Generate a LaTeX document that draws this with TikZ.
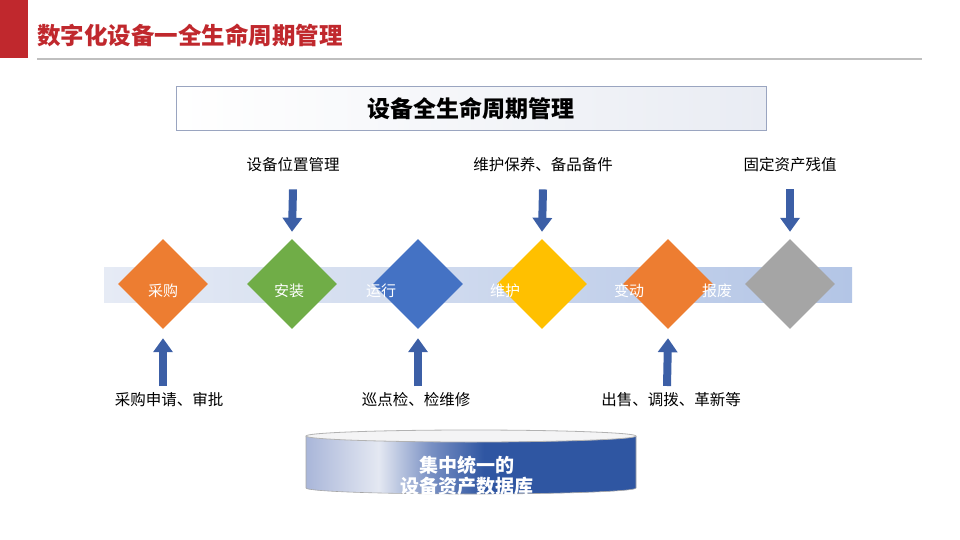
\documentclass[tikz,border=0pt]{standalone}
\usepackage{fontspec}
\setmainfont{Noto Sans CJK SC}
\usetikzlibrary{shapes.geometric,arrows.meta}
\definecolor{titlered}{HTML}{C0282D}
\definecolor{arrowblue}{HTML}{3C5FA6}
\definecolor{dorange}{HTML}{ED7D31}
\definecolor{dgreen}{HTML}{70AD47}
\definecolor{dblue}{HTML}{4472C4}
\definecolor{dyellow}{HTML}{FFC000}
\definecolor{dgrey}{HTML}{A5A5A5}
\definecolor{bandL}{HTML}{E6EBF5}
\definecolor{bandR}{HTML}{B3C5E6}
\definecolor{cylL}{HTML}{A9B6D9}
\definecolor{cylH}{HTML}{E4E8F2}
\definecolor{cylR}{HTML}{2F56A2}
\definecolor{boxline}{HTML}{9AA5C0}
\definecolor{boxfill}{HTML}{E9ECF3}
\pgfdeclarehorizontalshading{cylshade}{100bp}{color(0bp)=(cylL); color(25bp)=(cylL); color(36bp)=(cylH); color(44bp)=(cylL!60!cylR); color(52bp)=(cylR); color(100bp)=(cylR)}
\tikzset{
  dia/.style={diamond, minimum width=90pt, minimum height=90pt, inner sep=0pt, draw=none},
  wlabel/.style={text=white, font=\fontsize{15}{17}\selectfont, inner sep=0pt},
  blabel/.style={text=black, font=\fontsize{15.5}{18}\selectfont, inner sep=1pt},
  bigarrow/.style={draw=arrowblue, line width=8pt, -{Triangle[width=19pt,length=14pt]}},
}
\begin{document}
\begin{tikzpicture}[x=1pt,y=-1pt]
\useasboundingbox (0,0) rectangle (960,540);
% header
\fill[titlered] (0,0) rectangle (28,58);
\node[anchor=west, text=titlered, font=\fontsize{23.5}{26}\selectfont\bfseries, inner sep=0pt] (title) at (37,35) {数字化设备一全生命周期管理};
\draw[black!25, line width=1.2pt] (37,59) -- (922,59);
% top box
\node[draw=boxline, line width=1pt, left color=white, right color=boxfill, minimum width=590pt, minimum height=44pt, font=\fontsize{23}{26}\selectfont\bfseries] (topbox) at (471,109) {设备全生命周期管理};
% band
\shade[left color=bandL, right color=bandR] (104,267) rectangle (852,302);
% diamonds
\node[dia, fill=dorange] (d1) at (163,284) {};
\node[dia, fill=dgreen] (d2) at (292,284) {};
\node[dia, fill=dblue] (d3) at (418,284) {};
\node[dia, fill=dyellow] (d4) at (542,284) {};
\node[dia, fill=dorange] (d5) at (668,284) {};
\node[dia, fill=dgrey] (d6) at (790,284) {};
% stage labels
\node[wlabel] (s1) at (163,291) {采购};
\node[wlabel] (s2) at (289,291) {安装};
\node[wlabel] (s3) at (381,291) {运行};
\node[wlabel] (s4) at (505,291) {维护};
\node[wlabel] (s5) at (629,291) {变动};
\node[wlabel] (s6) at (717,291) {报废};
% top labels
\node[blabel] (t2) at (293,165) {设备位置管理};
\node[blabel] (t4) at (543,165) {维护保养、备品备件};
\node[blabel] (t6) at (790,165) {固定资产残值};
\draw[bigarrow] ([yshift=-16pt]t2.south) -- ([yshift=7pt]d2.north);
\draw[bigarrow] ([yshift=-16pt]t4.south) -- ([yshift=7pt]d4.north);
\draw[bigarrow] ([yshift=-16pt]t6.south) -- ([yshift=7pt]d6.north);
% bottom labels
\node[blabel] (b1) at (169,400) {采购申请、审批};
\node[blabel] (b3) at (416,400) {巡点检、检维修};
\node[blabel] (b5) at (671,400) {出售、调拨、革新等};
\draw[bigarrow] (163,386) coordinate (c1) -- ([yshift=-9pt]d1.south);
\draw[bigarrow] (418,386) coordinate (c3) -- ([yshift=-9pt]d3.south);
\draw[bigarrow] (667,386) coordinate (c5) -- ([yshift=-9pt]d5.south);
% cylinder
\shade[shading=cylshade]
  (306,436) -- (306,488) arc[start angle=180, end angle=360, x radius=165pt, y radius=6pt] -- (636,436) -- cycle;
\draw[black!35, line width=0.6pt] (306,436) -- (306,488) arc[start angle=180, end angle=360, x radius=165pt, y radius=6pt] -- (636,436);
\draw[black!30, line width=0.8pt, fill=blue!4!gray!8] (471,436) ellipse[x radius=165pt, y radius=6pt];
\node[text=white, font=\fontsize{19}{21}\selectfont\bfseries, align=center] (db) at (467,476) {集中统一的\\设备资产数据库};
\end{tikzpicture}
\end{document}
